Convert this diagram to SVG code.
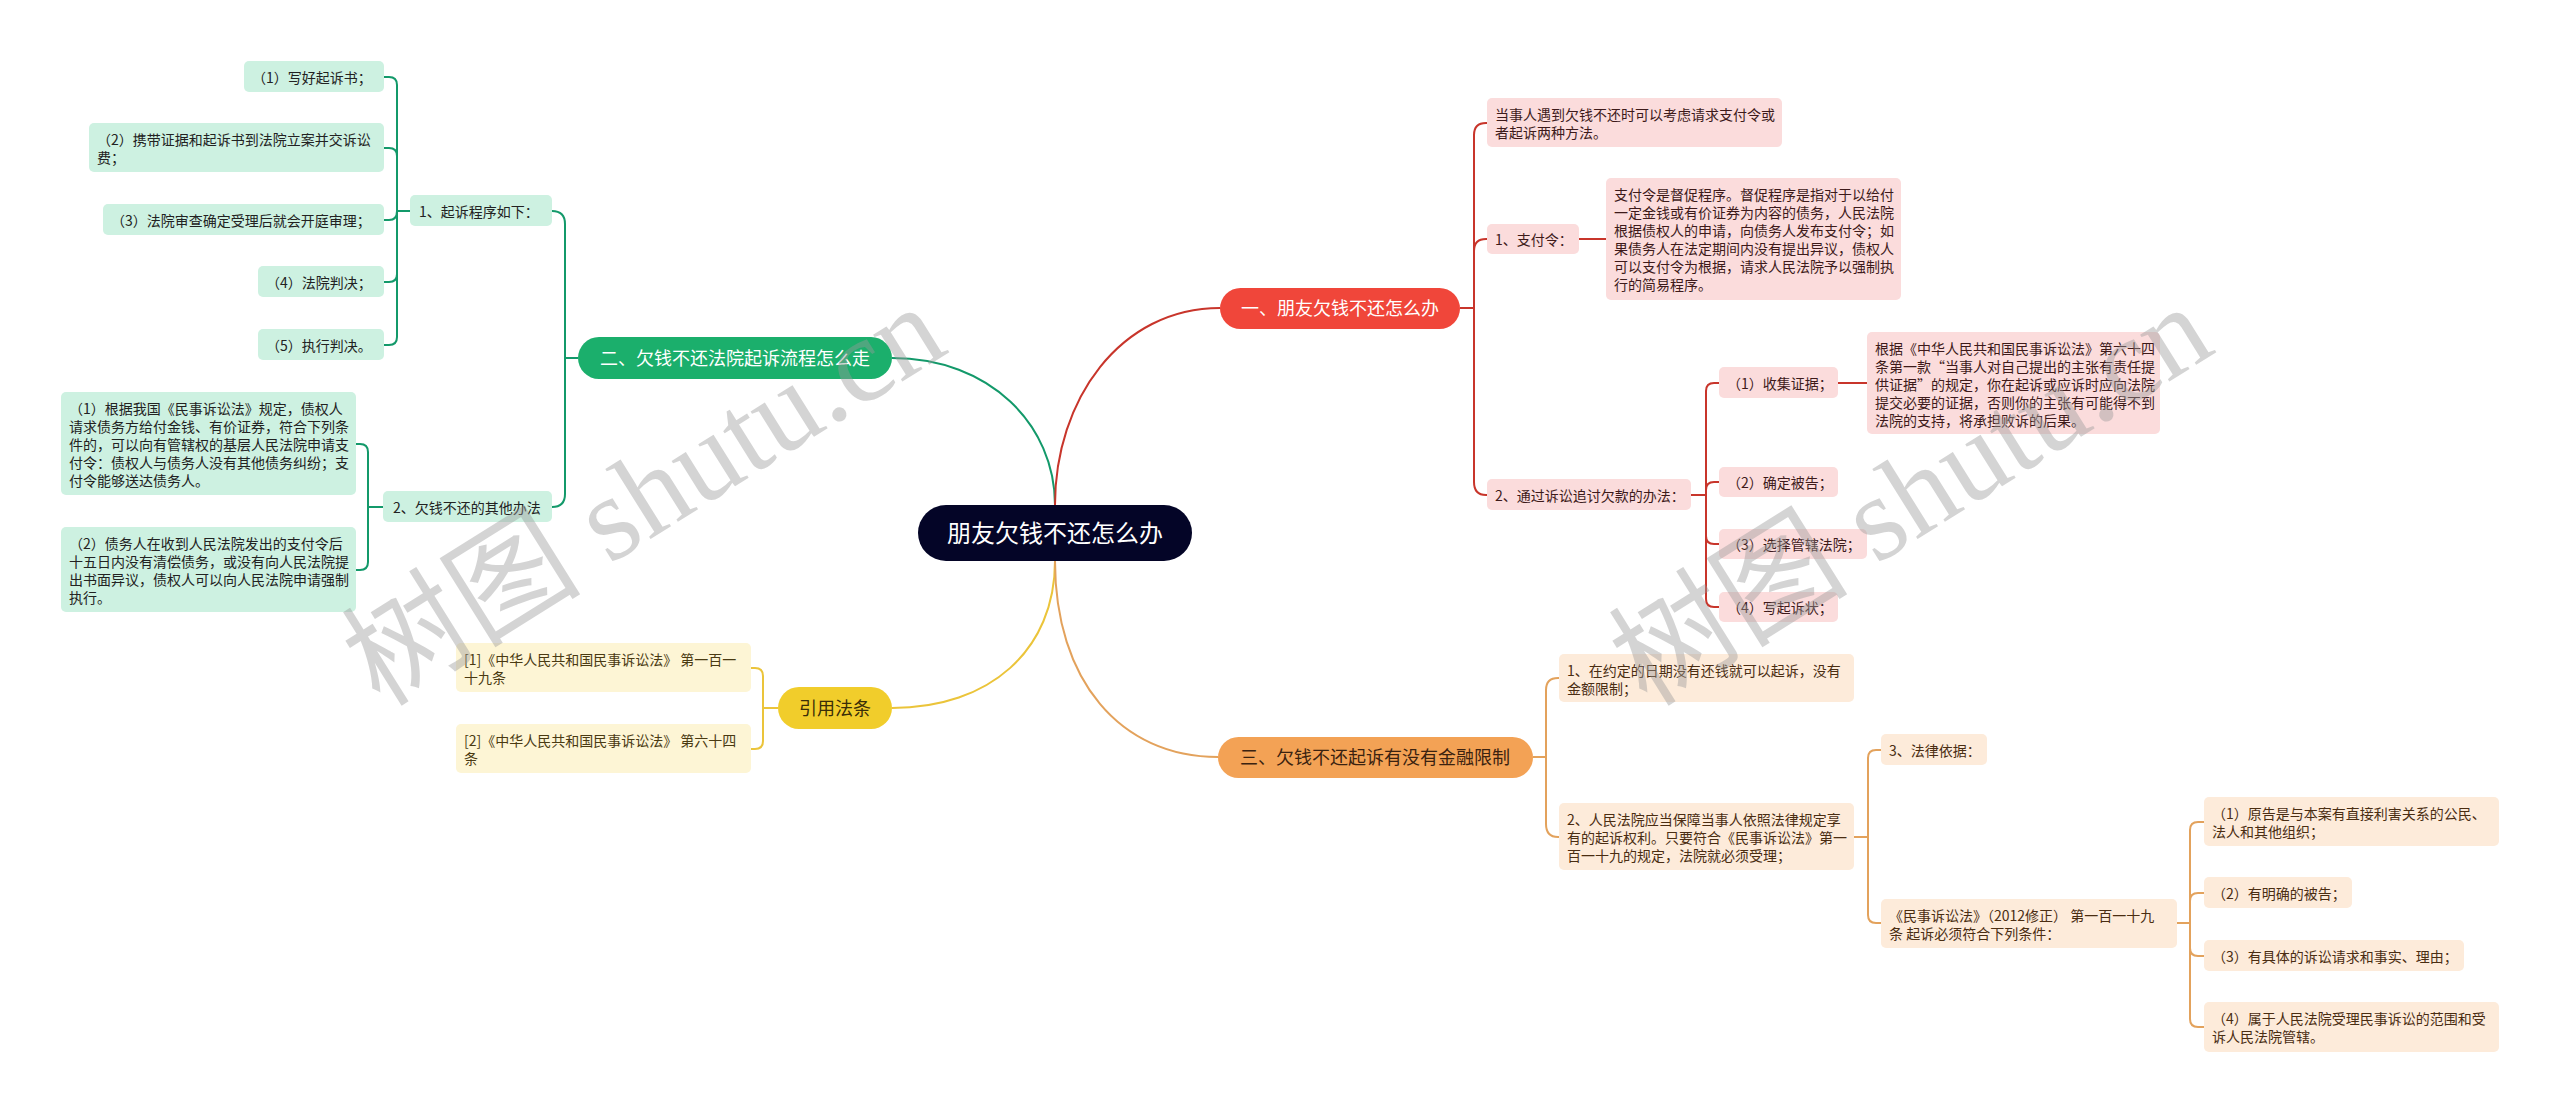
<svg xmlns="http://www.w3.org/2000/svg" width="2560" height="1112" viewBox="0 0 2560 1112">
<style>
text{font-family:"Noto Sans CJK SC","Microsoft YaHei",sans-serif;}
.t{font-size:14px;}
.m{font-size:18px;text-anchor:middle;}
.c{font-size:24px;text-anchor:middle;fill:#ffffff;}
.gb{fill:#cdf1e1;} .gt{fill:#222222;}
.rb{fill:#fbdcdc;} .rt{fill:#3d1a1a;}
.yb{fill:#fdf5d5;} .yt{fill:#4a3a12;}
.ob{fill:#fdebda;} .ot{fill:#4a2d12;}
.lg{fill:none;stroke:#13996a;stroke-width:2;}
.lr{fill:none;stroke:#c8352b;stroke-width:2;}
.ly{fill:none;stroke:#ebc43a;stroke-width:2;}
.lo{fill:none;stroke:#e3a25c;stroke-width:2;}
.wm{font-family:"Liberation Serif","Noto Sans CJK SC",serif;font-size:120px;fill:#9a9a9a;opacity:0.42;}
</style>
<rect x="0" y="0" width="2560" height="1112" fill="#ffffff"/>
<g id="connectors">
<path class="lg" d="M1055,505 C1055,425 990,358 892,358"/>
<path class="lr" d="M1055,505 C1055,400 1120,308 1220,308"/>
<path class="ly" d="M1055,561 C1055,650 990,708 892,708"/>
<path class="lo" d="M1055,561 C1055,680 1120,757 1218,757"/>
<path class="lg" d="M578,358 H565 M565,358 V224 Q565,211 552,211 M565,358 V494 Q565,507 552,507"/>
<path class="lg" d="M410,211 H397 M397,211 V85 Q397,77 389,77 H384 M397,211 V156 Q397,148 389,148 H384 M397,211 Q397,220 389,220 H384 M397,211 V274 Q397,282 389,282 H384 M397,211 V337 Q397,345 389,345 H384"/>
<path class="lg" d="M383,507 H368 M368,507 V452 Q368,444 360,444 H356 M368,507 V562 Q368,570 360,570 H356"/>
<path class="ly" d="M778,708 H763 M763,708 V676 Q763,668 755,668 H751 M763,708 V741 Q763,749 755,749 H751"/>
<path class="lr" d="M1460,308 H1474 M1474,308 V135 Q1474,123 1486,123 H1487 M1474,308 V251 Q1474,239 1486,239 H1487 M1474,308 V482 Q1474,495 1486,495 H1487"/>
<path class="lr" d="M1579,239 H1606"/>
<path class="lr" d="M1691,495 H1706 M1706,495 V391 Q1706,383 1714,383 H1719 M1706,495 V490 Q1706,482 1714,482 H1719 M1706,495 V536 Q1706,544 1714,544 H1719 M1706,495 V599 Q1706,607 1714,607 H1719"/>
<path class="lr" d="M1838,383 H1867"/>
<path class="lo" d="M1533,757 H1546 M1546,757 V690 Q1546,678 1558,678 H1559 M1546,757 V824 Q1546,837 1558,837 H1559"/>
<path class="lo" d="M1854,837 H1868 M1868,837 V758 Q1868,750 1876,750 H1881 M1868,837 V915 Q1868,923 1876,923 H1881"/>
<path class="lo" d="M2177,923 H2190 M2190,923 V830 Q2190,822 2198,822 H2204 M2190,923 V901 Q2190,893 2198,893 H2204 M2190,923 V948 Q2190,956 2198,956 H2204 M2190,923 V1019 Q2190,1027 2198,1027 H2204"/>
</g>
<g id="root"><rect x="918" y="505" width="274" height="56" rx="28" fill="#040527"/><text class="c" x="1055" y="542">朋友欠钱不还怎么办</text></g>
<g id="n-er"><rect x="578" y="337" width="314" height="42" rx="21" fill="#1baf6c"/><text class="m" x="735" y="365" fill="#ffffff">二、欠钱不还法院起诉流程怎么走</text></g>
<g id="n-er-1"><rect class="gb" x="410" y="195" width="142" height="31" rx="5"/><text class="t gt" x="419" y="217">1、起诉程序如下：</text></g>
<g id="n-er-1-1"><rect class="gb" x="244" y="61" width="140" height="31" rx="5"/><text class="t gt" x="252" y="83">（1）写好起诉书；</text></g>
<g id="n-er-1-2"><rect class="gb" x="89" y="123" width="295" height="49" rx="5"/><text class="t gt" x="97" y="145">（2）携带证据和起诉书到法院立案并交诉讼<tspan x="97" dy="18">费；</tspan></text></g>
<g id="n-er-1-3"><rect class="gb" x="103" y="204" width="281" height="31" rx="5"/><text class="t gt" x="111" y="226">（3）法院审查确定受理后就会开庭审理；</text></g>
<g id="n-er-1-4"><rect class="gb" x="258" y="266" width="126" height="31" rx="5"/><text class="t gt" x="266" y="288">（4）法院判决；</text></g>
<g id="n-er-1-5"><rect class="gb" x="258" y="329" width="126" height="31" rx="5"/><text class="t gt" x="266" y="351">（5）执行判决。</text></g>
<g id="n-er-2"><rect class="gb" x="383" y="491" width="169" height="31" rx="5"/><text class="t gt" x="393" y="513">2、欠钱不还的其他办法</text></g>
<g id="n-er-2-1"><rect class="gb" x="61" y="392" width="295" height="103" rx="5"/><text class="t gt" x="69" y="414">（1）根据我国《民事诉讼法》规定，债权人<tspan x="69" dy="18">请求债务方给付金钱、有价证券，符合下列条</tspan><tspan x="69" dy="18">件的，可以向有管辖权的基层人民法院申请支</tspan><tspan x="69" dy="18">付令：债权人与债务人没有其他债务纠纷；支</tspan><tspan x="69" dy="18">付令能够送达债务人。</tspan></text></g>
<g id="n-er-2-2"><rect class="gb" x="61" y="527" width="295" height="85" rx="5"/><text class="t gt" x="69" y="549">（2）债务人在收到人民法院发出的支付令后<tspan x="69" dy="18">十五日内没有清偿债务，或没有向人民法院提</tspan><tspan x="69" dy="18">出书面异议，债权人可以向人民法院申请强制</tspan><tspan x="69" dy="18">执行。</tspan></text></g>
<g id="n-yy"><rect x="778" y="687" width="114" height="42" rx="21" fill="#f1cd2b"/><text class="m" x="835" y="715" fill="#3a2e08">引用法条</text></g>
<g id="n-yy-1"><rect class="yb" x="456" y="643" width="295" height="49" rx="5"/><text class="t yt" x="464" y="665">[1]《中华人民共和国民事诉讼法》 第一百一<tspan x="464" dy="18">十九条</tspan></text></g>
<g id="n-yy-2"><rect class="yb" x="456" y="724" width="295" height="49" rx="5"/><text class="t yt" x="464" y="746">[2]《中华人民共和国民事诉讼法》 第六十四<tspan x="464" dy="18">条</tspan></text></g>
<g id="n-yi"><rect x="1220" y="288" width="240" height="41" rx="20.5" fill="#f0463a"/><text class="m" x="1340" y="315" fill="#ffffff">一、朋友欠钱不还怎么办</text></g>
<g id="n-yi-0"><rect class="rb" x="1487" y="98" width="295" height="49" rx="5"/><text class="t rt" x="1495" y="120">当事人遇到欠钱不还时可以考虑请求支付令或<tspan x="1495" dy="18">者起诉两种方法。</tspan></text></g>
<g id="n-yi-1"><rect class="rb" x="1487" y="224" width="92" height="30" rx="5"/><text class="t rt" x="1495" y="245">1、支付令：</text></g>
<g id="n-yi-1-1"><rect class="rb" x="1606" y="178" width="295" height="122" rx="5"/><text class="t rt" x="1614" y="200">支付令是督促程序。督促程序是指对于以给付<tspan x="1614" dy="18">一定金钱或有价证券为内容的债务，人民法院</tspan><tspan x="1614" dy="18">根据债权人的申请，向债务人发布支付令；如</tspan><tspan x="1614" dy="18">果债务人在法定期间内没有提出异议，债权人</tspan><tspan x="1614" dy="18">可以支付令为根据，请求人民法院予以强制执</tspan><tspan x="1614" dy="18">行的简易程序。</tspan></text></g>
<g id="n-yi-2"><rect class="rb" x="1487" y="479" width="204" height="31" rx="5"/><text class="t rt" x="1495" y="501">2、通过诉讼追讨欠款的办法：</text></g>
<g id="n-yi-2-1"><rect class="rb" x="1719" y="367" width="119" height="31" rx="5"/><text class="t rt" x="1727" y="389">（1）收集证据；</text></g>
<g id="n-yi-2-1-1"><rect class="rb" x="1867" y="332" width="293" height="102" rx="5"/><text class="t rt" x="1875" y="354">根据《中华人民共和国民事诉讼法》第六十四<tspan x="1875" dy="18">条第一款“当事人对自己提出的主张有责任提</tspan><tspan x="1875" dy="18">供证据”的规定，你在起诉或应诉时应向法院</tspan><tspan x="1875" dy="18">提交必要的证据，否则你的主张有可能得不到</tspan><tspan x="1875" dy="18">法院的支持，将承担败诉的后果。</tspan></text></g>
<g id="n-yi-2-2"><rect class="rb" x="1719" y="467" width="119" height="30" rx="5"/><text class="t rt" x="1727" y="488">（2）确定被告；</text></g>
<g id="n-yi-2-3"><rect class="rb" x="1719" y="529" width="148" height="30" rx="5"/><text class="t rt" x="1727" y="550">（3）选择管辖法院；</text></g>
<g id="n-yi-2-4"><rect class="rb" x="1719" y="592" width="119" height="30" rx="5"/><text class="t rt" x="1727" y="613">（4）写起诉状；</text></g>
<g id="n-san"><rect x="1218" y="737" width="315" height="41" rx="20.5" fill="#f3a255"/><text class="m" x="1375" y="764" fill="#3b2210">三、欠钱不还起诉有没有金融限制</text></g>
<g id="n-san-1"><rect class="ob" x="1559" y="654" width="295" height="48" rx="5"/><text class="t ot" x="1567" y="676">1、在约定的日期没有还钱就可以起诉，没有<tspan x="1567" dy="18">金额限制；</tspan></text></g>
<g id="n-san-2"><rect class="ob" x="1559" y="803" width="295" height="67" rx="5"/><text class="t ot" x="1567" y="825">2、人民法院应当保障当事人依照法律规定享<tspan x="1567" dy="18">有的起诉权利。只要符合《民事诉讼法》第一</tspan><tspan x="1567" dy="18">百一十九的规定，法院就必须受理；</tspan></text></g>
<g id="n-san-2-1"><rect class="ob" x="1881" y="734" width="106" height="31" rx="5"/><text class="t ot" x="1889" y="756">3、法律依据：</text></g>
<g id="n-san-2-2"><rect class="ob" x="1881" y="899" width="296" height="49" rx="5"/><text class="t ot" x="1889" y="921">《民事诉讼法》（2012修正） 第一百一十九<tspan x="1889" dy="18">条 起诉必须符合下列条件：</tspan></text></g>
<g id="n-san-2-2-1"><rect class="ob" x="2204" y="797" width="295" height="49" rx="5"/><text class="t ot" x="2212" y="819">（1）原告是与本案有直接利害关系的公民、<tspan x="2212" dy="18">法人和其他组织；</tspan></text></g>
<g id="n-san-2-2-2"><rect class="ob" x="2204" y="877" width="148" height="31" rx="5"/><text class="t ot" x="2212" y="899">（2）有明确的被告；</text></g>
<g id="n-san-2-2-3"><rect class="ob" x="2204" y="940" width="260" height="31" rx="5"/><text class="t ot" x="2212" y="962">（3）有具体的诉讼请求和事实、理由；</text></g>
<g id="n-san-2-2-4"><rect class="ob" x="2204" y="1002" width="295" height="50" rx="5"/><text class="t ot" x="2212" y="1024">（4）属于人民法院受理民事诉讼的范围和受<tspan x="2212" dy="18">诉人民法院管辖。</tspan></text></g>
<g id="watermark">
<text class="wm" x="380" y="708" transform="rotate(-32 380 708)">树图 shutu.cn</text>
<text class="wm" x="1647" y="708" transform="rotate(-32 1647 708)">树图 shutu.cn</text>
</g>
</svg>
